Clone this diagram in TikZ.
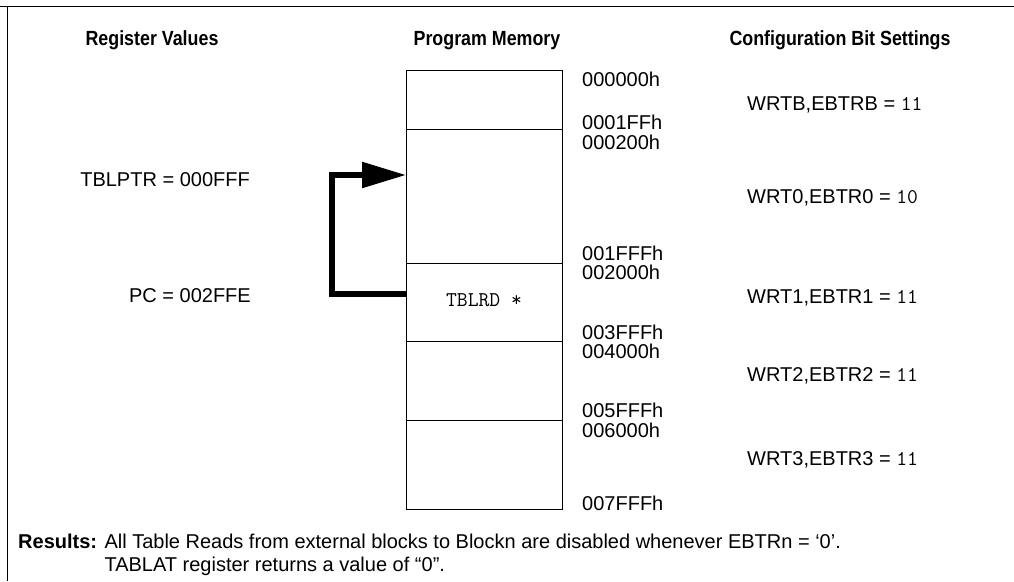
\documentclass[tikz,border=0pt]{standalone}
\usepackage{fontspec}
\setmainfont{Liberation Sans}
\usepackage{tikz}
\usetikzlibrary{arrows.meta, positioning}

\tikzset{
  head/.style={font=\fontsize{20.5}{24}\selectfont\bfseries, anchor=base},
  txt/.style={font=\fontsize{20}{23}\selectfont, inner sep=0pt},
  memblk/.style={draw, line width=0.8pt, minimum width=156pt, inner sep=0pt, outer sep=0pt},
  jump/.style={line width=5.5pt, -{Triangle[length=44pt, width=25pt]}}
}
\newcommand{\bits}[1]{{\ttfamily\fontsize{21}{23}\selectfont #1}}
\newcommand{\narrow}[1]{\scalebox{0.87}[1]{#1}}

\begin{document}
\begin{tikzpicture}[x=1pt, y=-1pt]
    \useasboundingbox (0,0) rectangle (1014,581);
    % frame (top and left edges only)
    \draw[line width=0.8pt] (0,6) -- (1014,6);
    \draw[line width=0.8pt] (7,6) -- (7,581);

    % column heads
    \node[head] (hreg) at (152,45) {\narrow{Register Values}};
    \node[head] (hmem) at (487,45) {\narrow{Program Memory}};
    \node[head] (hcfg) at (840,45) {\narrow{Configuration Bit Settings}};

    % program memory blocks, stacked
    \node[memblk, minimum height=59pt, anchor=north west] (blk0) at (406,70) {};
    \node[memblk, minimum height=134pt, below=0pt of blk0] (blk1) {};
    \node[memblk, minimum height=78pt, below=0pt of blk1] (blk2) {\raisebox{4pt}{\bits{TBLRD *}}};
    \node[memblk, minimum height=79pt, below=0pt of blk2] (blk3) {};
    \node[memblk, minimum height=89pt, below=0pt of blk3] (blk4) {};

    % addresses
    \node[txt, anchor=west] (a0) at (582,79) {000000h};
    \node[txt, anchor=west] (a1) at (582,122) {0001FFh};
    \node[txt, anchor=west] (a2) at (582,142) {000200h};
    \node[txt, anchor=west] (a3) at (582,253) {001FFFh};
    \node[txt, anchor=west] (a4) at (582,272) {002000h};
    \node[txt, anchor=west] (a5) at (582,332) {003FFFh};
    \node[txt, anchor=west] (a6) at (582,351) {004000h};
    \node[txt, anchor=west] (a7) at (582,410) {005FFFh};
    \node[txt, anchor=west] (a8) at (582,430) {006000h};
    \node[txt, anchor=west] (a9) at (582,503) {007FFFh};

    % register values
    \node[txt, anchor=east] (tblptr) at (250,180) {TBLPTR = 000FFF};
    \node[txt, anchor=east] (pc) at (251,296) {PC = 002FFE};

    % table read from block 1 back into the boot area
    \draw[jump] ([yshift=8pt]blk2.west) -- ++(-74pt,0) |- ([yshift=21pt]blk1.west);

    % configuration bits
    \node[txt, anchor=west] (cfgb) at (747,105) {WRTB,EBTRB = \bits{11}};
    \node[txt, anchor=west] (cfg0) at (747,198) {WRT0,EBTR0 = \bits{10}};
    \node[txt, anchor=west] (cfg1) at (747,298) {WRT1,EBTR1 = \bits{11}};
    \node[txt, anchor=west] (cfg2) at (747,376) {WRT2,EBTR2 = \bits{11}};
    \node[txt, anchor=west] (cfg3) at (747,460) {WRT3,EBTR3 = \bits{11}};

    % results note
    \node[txt, anchor=north west] (res) at (18,532) {%
      \begin{tabular}{@{}l@{ }l@{}}
        \textbf{Results:} & All Table Reads from external blocks to Blockn are disabled whenever EBTRn = ‘0’.\\
        & TABLAT register returns a value of “0”.
      \end{tabular}};
\end{tikzpicture}
\end{document}
